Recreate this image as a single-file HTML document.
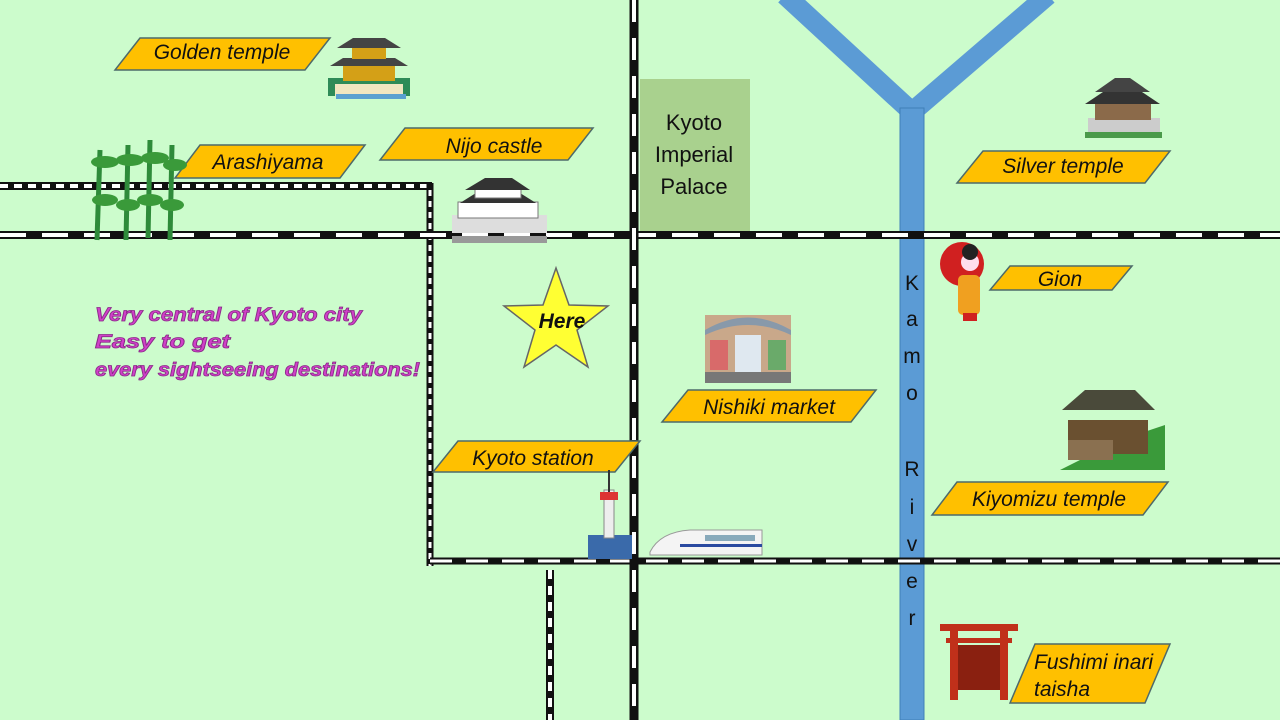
<!DOCTYPE html>
<html><head><meta charset="utf-8"><style>
html,body{margin:0;padding:0;background:#ccfccc;}
svg{display:block}
.lb{fill:#ffc000;stroke:#4d6a6a;stroke-width:1.5}
.lt{font-family:"Liberation Sans",sans-serif;font-style:italic;font-size:21px;fill:#111;text-anchor:middle}
.rv{font-family:"Liberation Sans",sans-serif;font-size:21px;fill:#111;text-anchor:middle}
.pk{font-family:"Liberation Sans",sans-serif;font-style:italic;font-weight:bold;font-size:19px;fill:#d040c8;stroke:#8a2a88;stroke-width:0.8}
</style></head><body>
<svg width="1280" height="720" viewBox="0 0 1280 720">
<rect width="1280" height="720" fill="#ccfccc"/>
<g stroke="#5b9bd5" stroke-width="20" fill="none">
<line x1="785" y1="-5" x2="912" y2="112"/>
<line x1="1048" y1="-5" x2="912" y2="112"/>
</g>
<rect x="900" y="108" width="24" height="612" fill="#5b9bd5" stroke="#3f7fb8" stroke-width="1"/>
<g class="rv"><text x="912" y="290">K</text><text x="912" y="326">a</text><text x="912" y="363">m</text><text x="912" y="400">o</text><text x="912" y="476">R</text><text x="912" y="514">i</text><text x="912" y="551">v</text><text x="912" y="588">e</text><text x="912" y="625">r</text></g>
<rect x="640" y="79" width="110" height="152" fill="#a9d18e"/>
<g class="rv" style="font-size:22px"><text x="694" y="130">Kyoto</text><text x="694" y="162">Imperial</text><text x="694" y="194">Palace</text></g>
<g fill="none">
<line x1="0" y1="186" x2="432" y2="186" stroke="#111" stroke-width="8"/>
<line x1="0" y1="186" x2="432" y2="186" stroke="#fff" stroke-width="4" stroke-dasharray="8 6"/>
<line x1="430" y1="183" x2="430" y2="566" stroke="#111" stroke-width="7"/>
<line x1="430" y1="190" x2="430" y2="566" stroke="#fff" stroke-width="3" stroke-dasharray="6 5"/>
<line x1="0" y1="235" x2="1280" y2="235" stroke="#111" stroke-width="8"/>
<line x1="0" y1="235" x2="1280" y2="235" stroke="#fff" stroke-width="4" stroke-dasharray="26 16"/>
<line x1="430" y1="561" x2="1280" y2="561" stroke="#111" stroke-width="7"/>
<line x1="430" y1="561" x2="1280" y2="561" stroke="#fff" stroke-width="3" stroke-dasharray="22 14"/>
<line x1="634" y1="0" x2="634" y2="720" stroke="#111" stroke-width="9"/>
<line x1="634" y1="0" x2="634" y2="720" stroke="#fff" stroke-width="4" stroke-dasharray="22 16"/>
<line x1="550" y1="570" x2="550" y2="720" stroke="#111" stroke-width="8"/>
<line x1="550" y1="570" x2="550" y2="720" stroke="#fff" stroke-width="4" stroke-dasharray="9 7"/>
</g>
<polygon class="lb" points="140,38 330,38 305,70 115,70"/><text class="lt" x="222" y="59">Golden temple</text>
<polygon class="lb" points="200,145 365,145 340,178 175,178"/><text class="lt" x="268" y="169">Arashiyama</text>
<polygon class="lb" points="405,128 593,128 568,160 380,160"/><text class="lt" x="494" y="153">Nijo castle</text>
<polygon class="lb" points="983,151 1170,151 1145,183 957,183"/><text class="lt" x="1063" y="173">Silver temple</text>
<polygon class="lb" points="1010,266 1132,266 1112,290 990,290"/><text class="lt" x="1060" y="286">Gion</text>
<polygon class="lb" points="688,390 876,390 851,422 662,422"/><text class="lt" x="769" y="414">Nishiki  market</text>
<polygon class="lb" points="458,441 640,441 615,472 433,472"/><text class="lt" x="533" y="465">Kyoto station</text>
<polygon class="lb" points="957,482 1168,482 1143,515 932,515"/><text class="lt" x="1049" y="506">Kiyomizu temple</text>
<polygon class="lb" points="1035,644 1170,644 1145,703 1010,703"/><text class="lt" x="1034" y="669" style="text-anchor:start">Fushimi inari</text><text class="lt" x="1034" y="696" style="text-anchor:start">taisha</text>
<polygon points="556,268 569,305 608,306 577,330 588,367 556,345 524,367 535,330 504,306 543,305" fill="#ffff33" stroke="#666" stroke-width="1.5"/>
<text x="562" y="328" style="font-family:'Liberation Sans',sans-serif;font-style:italic;font-weight:bold;font-size:21px;text-anchor:middle;fill:#111">Here</text>
<text class="pk" x="95" y="321" textLength="267" lengthAdjust="spacingAndGlyphs">Very central of Kyoto city</text>
<text class="pk" x="95" y="348" textLength="135" lengthAdjust="spacingAndGlyphs">Easy to get</text>
<text class="pk" x="95" y="376" textLength="325" lengthAdjust="spacingAndGlyphs">every sightseeing  destinations!</text>
<g><rect x="328" y="78" width="82" height="18" fill="#2e8b57"/><rect x="335" y="84" width="68" height="12" fill="#f0e6c0"/><rect x="343" y="63" width="52" height="18" fill="#d4a017"/><polygon points="330,66 408,66 395,58 343,58" fill="#444"/><rect x="352" y="45" width="34" height="14" fill="#d4a017"/><polygon points="337,48 401,48 385,38 353,38" fill="#444"/><rect x="336" y="94" width="70" height="5" fill="#5aa0d0"/></g>
<g stroke="#2e8b3a" stroke-width="5"><line x1="100" y1="150" x2="97" y2="240"/><line x1="128" y1="145" x2="126" y2="240"/><line x1="150" y1="140" x2="148" y2="238"/><line x1="172" y1="145" x2="170" y2="240"/></g>
<g fill="#3a9a3a"><ellipse cx="105" cy="162" rx="14" ry="6"/><ellipse cx="130" cy="160" rx="14" ry="6"/><ellipse cx="155" cy="158" rx="14" ry="6"/><ellipse cx="175" cy="165" rx="12" ry="6"/><ellipse cx="105" cy="200" rx="13" ry="6"/><ellipse cx="128" cy="205" rx="12" ry="6"/><ellipse cx="150" cy="200" rx="13" ry="6"/><ellipse cx="172" cy="205" rx="12" ry="6"/></g>
<g><rect x="452" y="215" width="95" height="18" fill="#ddd"/><rect x="458" y="202" width="80" height="16" fill="#fff" stroke="#777"/><polygon points="460,203 536,203 520,193 476,193" fill="#333"/><rect x="475" y="188" width="46" height="10" fill="#fff" stroke="#777"/><polygon points="465,190 530,190 512,178 485,178" fill="#333"/><rect x="452" y="236" width="95" height="7" fill="#999"/></g>
<g><rect x="1088" y="118" width="72" height="18" fill="#ccc"/><rect x="1095" y="100" width="56" height="20" fill="#8b6a4a"/><polygon points="1085,104 1160,104 1142,92 1103,92" fill="#333"/><polygon points="1095,92 1150,92 1130,78 1115,78" fill="#444"/><rect x="1085" y="132" width="77" height="6" fill="#4a9a4a"/></g>
<g><circle cx="962" cy="264" r="22" fill="#d02020"/><rect x="958" y="275" width="22" height="40" rx="5" fill="#f0a020"/><circle cx="970" cy="262" r="9" fill="#fde"/><circle cx="970" cy="252" r="8" fill="#222"/><rect x="963" y="313" width="14" height="8" fill="#d02020"/></g>
<g><rect x="705" y="315" width="86" height="68" fill="#c9a88a"/><path d="M705,330 Q748,305 791,330 L791,335 Q748,315 705,335Z" fill="#8899aa"/><rect x="735" y="335" width="26" height="40" fill="#dfe8f0"/><rect x="710" y="340" width="18" height="30" fill="#d86a6a"/><rect x="768" y="340" width="18" height="30" fill="#6aaa6a"/><rect x="705" y="372" width="86" height="11" fill="#777"/></g>
<g><polygon points="1060,470 1165,470 1165,425 1120,440" fill="#3a9a3a"/><rect x="1068" y="420" width="80" height="34" fill="#6a5030"/><polygon points="1062,410 1155,410 1135,390 1085,390" fill="#4a4a3a"/><rect x="1068" y="440" width="45" height="20" fill="#8a7050"/></g>
<g><rect x="588" y="535" width="44" height="24" fill="#3a6aaa"/><rect x="604" y="490" width="10" height="48" fill="#eee" stroke="#888"/><rect x="600" y="492" width="18" height="8" fill="#d33"/><line x1="609" y1="470" x2="609" y2="492" stroke="#333" stroke-width="2"/></g>
<g><path d="M650,552 Q660,532 690,530 L762,530 L762,555 L650,555Z" fill="#f4f4f4" stroke="#999"/><rect x="680" y="544" width="82" height="3" fill="#2a4aa0"/><rect x="705" y="535" width="50" height="6" fill="#8ab"/></g>
<g fill="#c0301a"><rect x="940" y="624" width="78" height="7"/><rect x="946" y="638" width="66" height="5"/><rect x="950" y="628" width="8" height="72"/><rect x="1000" y="628" width="8" height="72"/><rect x="958" y="645" width="42" height="45" fill="#8a2010"/></g>
</svg>
</body></html>
